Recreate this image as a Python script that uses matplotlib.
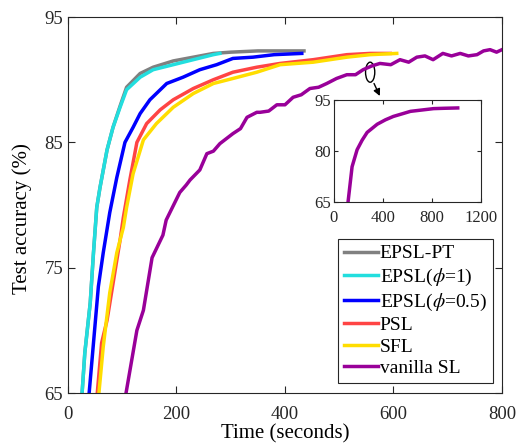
import matplotlib.pyplot as plt
from matplotlib.patches import Ellipse

plt.rcParams['font.family'] = ['Liberation Serif', 'DejaVu Serif']
plt.rcParams['mathtext.fontset'] = 'stix'

# curves (time in seconds, accuracy in %)
pt_t = [26, 31, 41, 47, 53, 59, 72, 83, 96, 108, 133, 157, 194, 231, 268, 300, 350, 400, 435]
pt_acc = [65, 68.2, 72.2, 76.2, 79.8, 81.4, 84.4, 86.2, 87.9, 89.4, 90.5, 91.0, 91.5, 91.8, 92.1, 92.2, 92.3, 92.3, 92.3]

e1_t = [26, 31, 41, 47, 53, 59, 72, 83, 96, 108, 133, 157, 194, 231, 268, 280]
e1_acc = [65, 68.2, 72.2, 76.2, 79.8, 81.4, 84.4, 86.2, 87.8, 89.2, 90.2, 90.8, 91.2, 91.6, 92.0, 92.1]

e05_t = [39, 47, 56, 65, 77, 90, 105, 120, 133, 151, 182, 212, 243, 274, 304, 341, 380, 431]
e05_acc = [65, 69, 73.5, 76.2, 79.4, 82.2, 85, 86.2, 87.3, 88.4, 89.7, 90.2, 90.8, 91.2, 91.7, 91.8, 92.0, 92.1]

psl_t = [54, 62, 72, 84, 96, 102, 114, 127, 145, 170, 194, 231, 268, 304, 348, 391, 452, 514, 557, 594]
psl_acc = [65, 69, 70.8, 74, 77.2, 79.0, 82, 85, 86.5, 87.6, 88.4, 89.3, 90.0, 90.6, 91.0, 91.3, 91.6, 92.0, 92.1, 92.1]

sfl_t = [57, 65, 77, 90, 102, 108, 120, 139, 163, 194, 231, 268, 304, 348, 391, 452, 514, 557, 606]
sfl_acc = [65, 68.7, 73, 76.2, 78.2, 79.8, 82.5, 85.2, 86.5, 87.8, 88.9, 89.7, 90.1, 90.6, 91.2, 91.4, 91.8, 92.0, 92.1]

sl_t = [107, 127, 139, 155, 175, 181, 206, 218, 225, 243, 256, 268, 280, 304, 318, 330, 348, 354, 370, 385,
        400, 415, 430, 446, 462, 477, 495, 514, 530, 544, 560, 575, 595, 612, 628, 643, 658, 673, 691,
        707, 723, 738, 754, 766, 778, 790, 800]
sl_acc = [65, 70.0, 71.6, 75.8, 77.6, 78.8, 81.0, 81.6, 82.0, 82.8, 84.1, 84.3, 84.9, 85.7, 86.1, 87.0, 87.4,
          87.4, 87.5, 88.0, 88.0, 88.6, 88.8, 89.3, 89.4, 89.7, 90.1, 90.4, 90.4, 90.8, 91.1, 91.3, 91.2,
          91.6, 91.4, 91.8, 91.9, 91.6, 92.1, 91.9, 92.1, 91.9, 92.0, 92.3, 92.4, 92.2, 92.4]

inset_t = [115, 148, 189, 230, 271, 353, 420, 485, 560, 625, 720, 814, 900, 1011]
inset_acc = [65, 75.4, 80.4, 83.2, 85.5, 87.9, 89.2, 90.2, 91.0, 91.7, 92.1, 92.5, 92.6, 92.7]

labels = ['EPSL-PT', r'EPSL($\phi$=1)', r'EPSL($\phi$=0.5)', 'PSL', 'SFL', 'vanilla SL']
colors = ['#808080', '#22DEDE', '#0000FF', '#FF4444', '#FFDD00', '#990099']
dark = '#262626'

fig = plt.figure(figsize=(5.21, 4.47), dpi=100)
ax = fig.add_axes([0.1305, 0.1208, 0.833, 0.841])

series = [(pt_t, pt_acc), (e1_t, e1_acc), (e05_t, e05_acc), (psl_t, psl_acc), (sfl_t, sfl_acc), (sl_t, sl_acc)]
for (t, a), lab, c in zip(series, labels, colors):
    ax.plot(t, a, color=c, lw=2.5, label=lab)

ax.set_xlim(0, 800)
ax.set_ylim(65, 95)
ax.set_xticks([0, 200, 400, 600, 800])
ax.set_yticks([65, 75, 85, 95])
ax.tick_params(direction='in', top=True, right=True, labelsize=13.5, colors=dark, length=5)
ax.tick_params(axis='x', pad=9)
for s in ax.spines.values():
    s.set_color(dark)
ax.set_xlabel('Time (seconds)', fontsize=15, labelpad=1)
ax.set_ylabel('Test accuracy (%)', fontsize=15)
ax.yaxis.set_label_coords(-0.083, 0.463)

leg = ax.legend(loc='lower right', bbox_to_anchor=(0.979, 0.027), borderaxespad=0, fontsize=14,
                fancybox=False, framealpha=1, edgecolor=dark, handlelength=1.75,
                handletextpad=0.1, labelspacing=0.2, borderpad=0.3)
leg.get_frame().set_linewidth(0.8)

# ellipse + arrow pointing to inset
ax.add_patch(Ellipse((557, 90.6), 17, 1.6, fill=False, color='k', lw=1))
ax.annotate('', xy=(577, 88.5), xytext=(562, 89.9),
            arrowprops=dict(arrowstyle='-|>', color='k', lw=1, mutation_scale=10))

ins = fig.add_axes([0.641, 0.548, 0.282, 0.228])
ins.plot(inset_t, inset_acc, color='#990099', lw=2.5)
ins.set_xlim(0, 1200)
ins.set_ylim(65, 95)
ins.set_xticks([0, 400, 800, 1200])
ins.set_yticks([65, 80, 95])
ins.tick_params(direction='in', top=True, right=True, labelsize=12, colors=dark, length=3, pad=2)
ins.tick_params(axis='x', pad=6)
for s in ins.spines.values():
    s.set_color(dark)

fig.savefig('out.png', dpi=100)
